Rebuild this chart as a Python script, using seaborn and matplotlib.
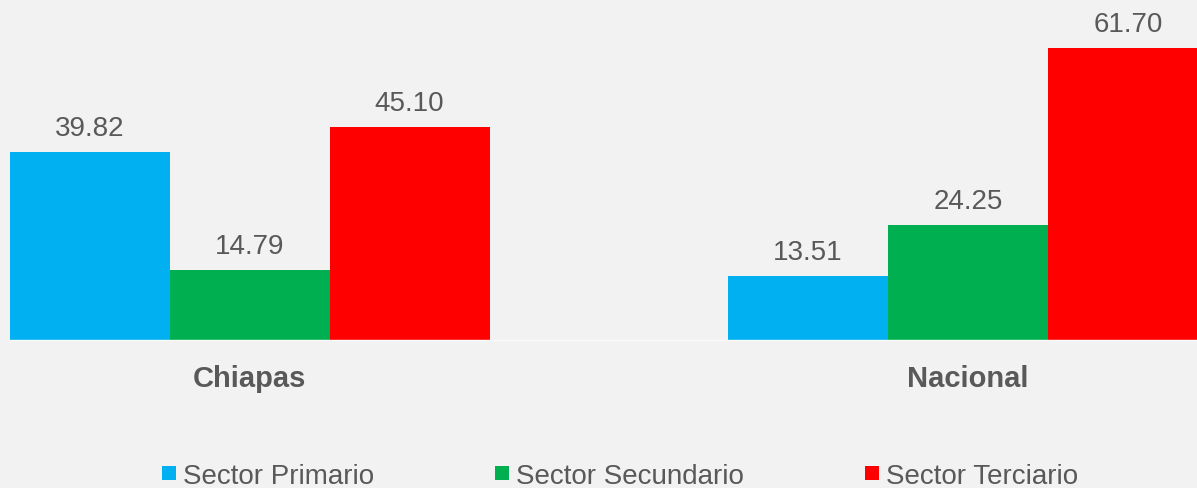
import matplotlib
matplotlib.use("Agg")
import matplotlib.pyplot as plt
import pandas as pd
import seaborn as sns
from matplotlib.lines import Line2D

regions = ["Chiapas", "Nacional"]
sectors = ["Sector Primario", "Sector Secundario", "Sector Terciario"]
primario = [39.82, 13.51]
secundario = [14.79, 24.25]
terciario = [45.10, 61.70]
colors = ["#00B0F0", "#00B050", "#FF0000"]

BG = "#F2F2F2"
TEXT = "#595959"


def build_frame() -> pd.DataFrame:
    rows = []
    for sector, values in zip(sectors, [primario, secundario, terciario]):
        for region, value in zip(regions, values):
            rows.append({"region": region, "sector": sector, "value": value})
    return pd.DataFrame(rows)


def main() -> None:
    sns.set_theme(style="white")
    plt.rcParams["font.family"] = ["Liberation Sans", "DejaVu Sans"]

    df = build_frame()

    fig = plt.figure(figsize=(11.97, 4.89), dpi=100, facecolor=BG)
    ax = fig.add_axes([7 / 1197, 148 / 489, 1190 / 1197, 341 / 489])
    ax.set_facecolor(BG)

    sns.barplot(
        data=df, x="region", y="value", hue="sector", order=regions,
        hue_order=sectors, palette=colors, width=0.668, saturation=1,
        linewidth=0, legend=False, ax=ax,
    )
    for container in ax.containers:
        ax.bar_label(container, fmt="%.2f", padding=8, fontsize=20, color=TEXT)

    ax.set_xlim(-0.338, 1.319)
    ax.set_ylim(0, 72.1)
    ax.set_xlabel("")
    ax.set_ylabel("")
    ax.set_yticks([])

    for side in ["top", "right", "left"]:
        ax.spines[side].set_visible(False)
    ax.spines["bottom"].set_color("#FAFAFA")
    ax.spines["bottom"].set_linewidth(1.0)

    ax.set_xticks([0, 1])
    ax.set_xticklabels(regions, fontsize=21, fontweight="bold", color=TEXT)
    ax.tick_params(axis="x", which="major", length=0, pad=17.5)
    ax.set_xticks([0.5], minor=True)
    ax.tick_params(axis="x", which="minor", length=7, width=1, color="#FAFAFA")

    handles = [
        Line2D([], [], marker="s", linestyle="none", markersize=10,
               markerfacecolor=c, markeredgewidth=0)
        for c in colors
    ]
    fig.legend(
        handles, sectors, loc="center", bbox_to_anchor=(0.518, 12 / 489),
        ncol=3, frameon=False, fontsize=20, labelcolor=TEXT,
        handlelength=0.5, handletextpad=0.25, columnspacing=4.35,
    )

    fig.savefig("out.png", dpi=100, facecolor=BG)
    plt.close(fig)


if __name__ == "__main__":
    main()
